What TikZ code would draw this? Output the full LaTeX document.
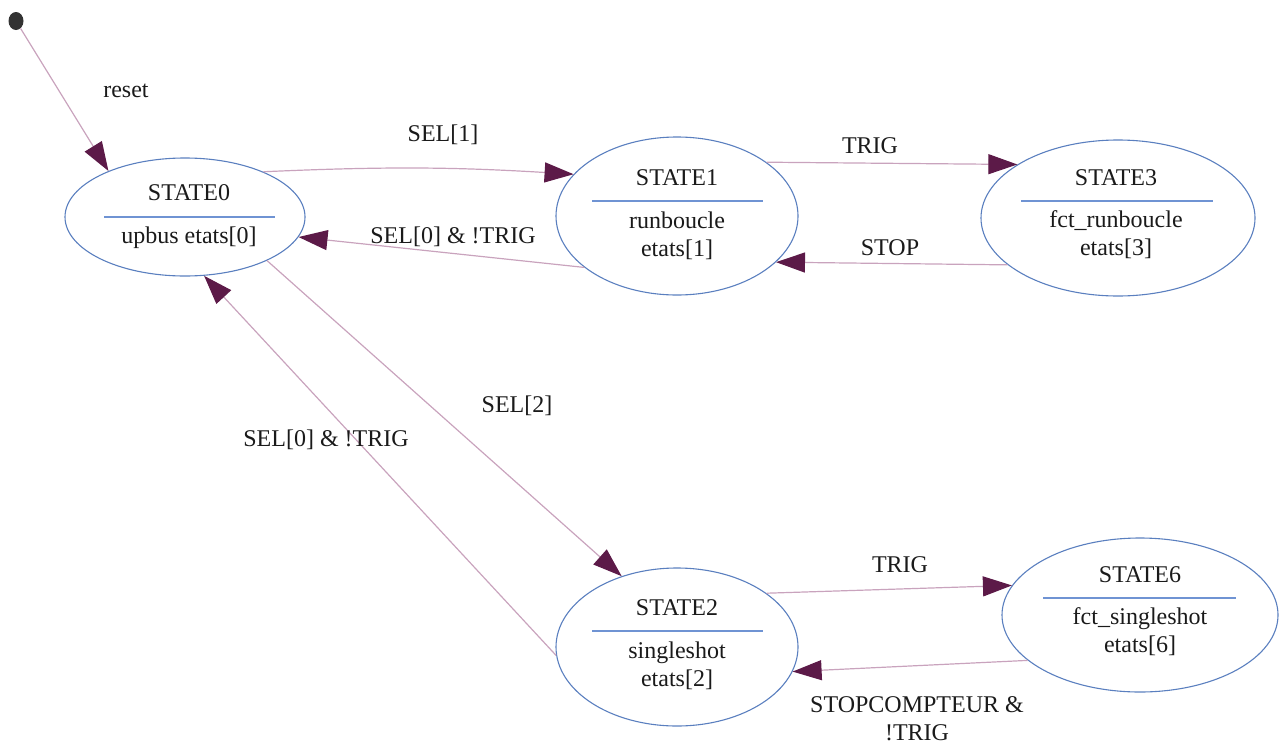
\documentclass[tikz,border=0pt]{standalone}
\usepackage{fontspec}
\setmainfont{Liberation Serif}
\usetikzlibrary{shapes.geometric,arrows.meta}
\definecolor{edgec}{HTML}{C9A3BD}
\definecolor{tipc}{HTML}{5C1A48}
\definecolor{ellc}{HTML}{5A7FBF}
\definecolor{divc}{HTML}{6F93D3}
\definecolor{txtc}{HTML}{1A1A1A}
\begin{document}
\begin{tikzpicture}[x=1pt,y=-1pt,
 state/.style={ellipse,draw=ellc,line width=1.1pt,inner sep=0pt},
 txt/.style={text=txtc,font=\fontsize{24}{28}\selectfont,inner sep=0pt,anchor=center,align=center},
 trans/.style={draw=edgec,line width=1.2pt,-{Triangle[length=29pt,width=20pt,color=tipc]}},
 divline/.style={draw=divc,line width=1.2pt}]
\useasboundingbox (0,0) rectangle (1284,747);
% initial dot
\node[ellipse,fill=black!80,minimum width=15pt,minimum height=18pt,inner sep=0pt] (init) at (16,21) {};
% states
\node[state,minimum width=240pt,minimum height=118pt] (s0) at (185,217) {};
\node[state,minimum width=242pt,minimum height=158pt] (s1) at (677,216) {};
\node[state,minimum width=274pt,minimum height=156pt] (s3) at (1118,218) {};
\node[state,minimum width=242pt,minimum height=158pt] (s2) at (677,647) {};
\node[state,minimum width=276pt,minimum height=154pt] (s6) at (1140,615) {};
% state texts
\node[txt] (t0a) at (189,193) {STATE0};
\draw[divline] (104,217) -- (275,217);
\node[txt] (t0b) at (189,238) {upbus etats[0]};
\node[txt] (t1a) at (677,178) {STATE1};
\draw[divline] (592,201) -- (763,201);
\node[txt] (t1b) at (677,236) {runboucle\\etats[1]};
\node[txt] (t3a) at (1116,178) {STATE3};
\draw[divline] (1021,201) -- (1213,201);
\node[txt] (t3b) at (1116,235) {fct\_runboucle\\etats[3]};
\node[txt] (t2a) at (677,608) {STATE2};
\draw[divline] (592,631) -- (763,631);
\node[txt] (t2b) at (677,666) {singleshot\\etats[2]};
\node[txt] (t6a) at (1140,575) {STATE6};
\draw[divline] (1043,598) -- (1236,598);
\node[txt] (t6b) at (1140,632) {fct\_singleshot\\etats[6]};
% transitions
\draw[trans] (init) -- (s0.149);
\draw[trans] (s0.30) to[bend left=3] (s1.158);
\draw[trans] (s1.209) -- (s0.-10);
\draw[trans] (s1.31) -- (s3.152);
\draw[trans] (s3.203) -- (s1.-25);
\draw[trans] (s0.-28) -- (s2.128);
\draw[trans] (s2.184) -- (s0.-72);
\draw[trans] (s2.31) -- (s6.167);
\draw[trans] (s6.202) -- (s2.-12);
% labels
\node[txt] (lreset) at (126,91) {reset};
\node[txt] (lsel1) at (443,135) {SEL[1]};
\node[txt] (lsel0a) at (453,237) {SEL[0] \& !TRIG};
\node[txt] (ltrig1) at (870,146) {TRIG};
\node[txt] (lstop) at (890,248) {STOP};
\node[txt] (lsel2) at (517,406) {SEL[2]};
\node[txt] (lsel0b) at (326,440) {SEL[0] \& !TRIG};
\node[txt] (ltrig2) at (900,565) {TRIG};
\node[txt] (lstopc) at (917,719) {STOPCOMPTEUR \&\\!TRIG};
\end{tikzpicture}
\end{document}
